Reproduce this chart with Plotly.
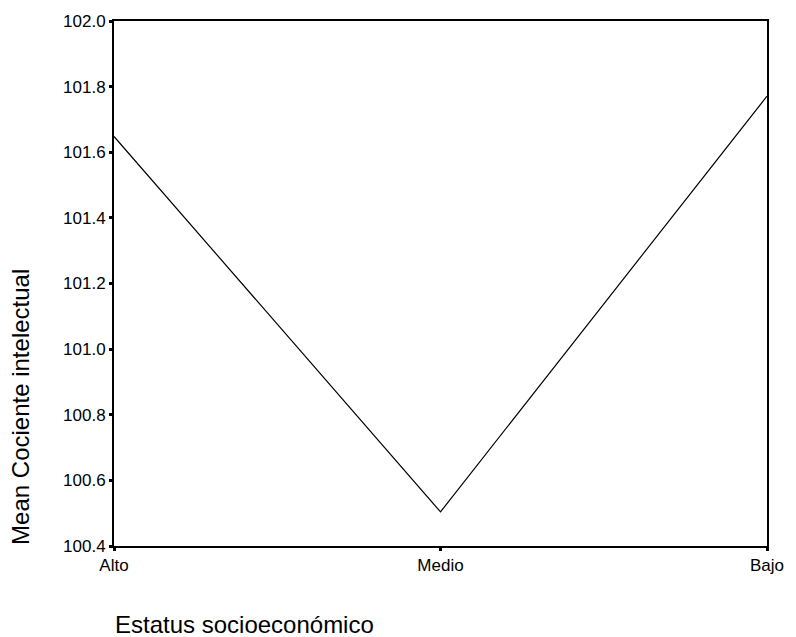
import plotly.graph_objects as go

categories = ["Alto", "Medio", "Bajo"]
mean_ci = [101.648, 100.504, 101.771]
y_ticks = [100.4, 100.6, 100.8, 101.0, 101.2, 101.4, 101.6, 101.8, 102.0]

fig = go.Figure()
fig.add_trace(go.Scatter(
    x=list(range(len(categories))), y=mean_ci, mode="lines",
    line=dict(color="black", width=1.2), showlegend=False, hoverinfo="skip"))

font = "Liberation Sans, Arial, sans-serif"
# initial size fits inside the default 8px body margin; resized after load
fig.update_layout(
    width=780, height=621,
    margin=dict(l=106, r=12, t=7, b=83),
    plot_bgcolor="white", paper_bgcolor="white",
    font=dict(family=font, color="black", size=17),
    xaxis=dict(
        range=[0, 2], tickvals=[0, 1, 2], ticktext=categories,
        showline=True, linecolor="black", linewidth=2, mirror=True,
        ticks="outside", ticklen=3, tickwidth=3, tickcolor="black",
        showgrid=False, zeroline=False, tickfont=dict(size=17)),
    yaxis=dict(
        range=[100.4, 102.0], tickvals=y_ticks,
        ticktext=[f"{v:.1f}" for v in y_ticks],
        showline=True, linecolor="black", linewidth=2, mirror=True,
        ticks="outside", ticklen=3, tickwidth=3, tickcolor="black",
        showgrid=False, zeroline=False, tickfont=dict(size=17)),
)
fig.add_annotation(text="Mean Cociente intelectual", xref="paper", yref="paper",
                   x=-0.1435, y=0.2655, textangle=-90, showarrow=False,
                   font=dict(size=24), xanchor="center", yanchor="middle")
fig.add_annotation(text="Estatus socioeconómico", xref="paper", yref="paper",
                   x=-0.0015, y=-0.1488, showarrow=False,
                   font=dict(size=24), xanchor="left", yanchor="middle")

post = (
    "document.body.style.margin='0';"
    "document.body.style.overflow='hidden';"
    "var gd=document.getElementById('{plot_id}');"
    "Plotly.relayout(gd,{width:796,height:637,"
    "'margin.l':114,'margin.r':20,'margin.t':15,'margin.b':91});"
)
fig.write_html("out.html", config={"displayModeBar": False}, post_script=post)
